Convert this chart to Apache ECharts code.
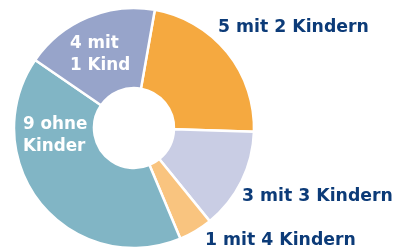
<!DOCTYPE html>
<html><head><meta charset="utf-8">
<script src="https://cdn.jsdelivr.net/npm/echarts@6/dist/echarts.min.js"></script>
<style>html,body{margin:0;padding:0;background:#fff}#c{width:397px;height:248px}</style>
</head><body><div id="c"></div>
<script>
const categories = ['5 mit 2 Kindern', '3 mit 3 Kindern', '1 mit 4 Kindern', '9 ohne\nKinder', '4 mit\n1 Kind'];
const values = [5, 3, 1, 9, 4];
const colors = ['#F5A940', '#C9CDE4', '#F9C47F', '#81B5C5', '#97A4CA'];
const inside = [false, false, false, true, true];
const labelPos = [[218, 28, 'left'], [242, 197, 'left'], [205, 241, 'left'], [23, 136, 'left'], [70, 55, 'left']];

const chart = echarts.init(document.getElementById('c'), null, {renderer: 'canvas'});
chart.setOption({
  animation: false,
  series: [{
    type: 'pie',
    center: [134, 128],
    radius: [40, 120],
    startAngle: 80,
    clockwise: true,
    itemStyle: {borderColor: '#fff', borderWidth: 2.5},
    label: {
      show: true,
      position: 'outside',
      formatter: p => p.name,
      fontFamily: 'DejaVu Sans',
      fontWeight: 'bold',
      fontSize: 17.3,
      lineHeight: 22,
      overflow: 'none',
      width: 300
    },
    labelLine: {show: false},
    labelLayout: p => {
      const lp = labelPos[p.dataIndex];
      return {x: lp[0], y: lp[1], align: lp[2], verticalAlign: 'middle', hideOverlap: false, moveOverlap: null};
    },
    data: categories.map((c, i) => ({
      name: c, value: values[i],
      itemStyle: {color: colors[i]},
      label: {color: inside[i] ? '#ffffff' : '#0C3B78', fontSize: inside[i] ? 16.8 : 17.3}
    }))
  }]
});
</script></body></html>
